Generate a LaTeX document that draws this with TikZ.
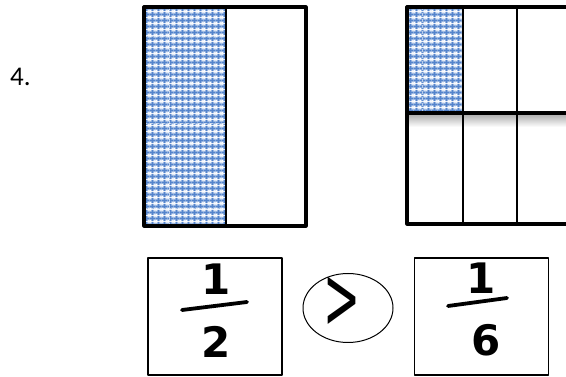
\documentclass[tikz,border=0pt]{standalone}
\usepackage{fontspec}
\setmainfont{Carlito}
\newfontfamily\manofont{DejaVu Sans}
\usetikzlibrary{patterns.meta,shapes.geometric,positioning}

\definecolor{azul}{RGB}{84,132,204}

\tikzdeclarepattern{
  name=cuadricula,
  type=colored,
  bottom left={(0pt,0pt)},
  top right={(6pt,6pt)},
  tile size={(6pt,6pt)},
  code={
    \fill[azul!35!white] (0pt,0pt) rectangle (6pt,6pt);
    \fill[azul] (2pt,0pt) rectangle (4pt,6pt);
    \fill[azul] (0pt,2pt) rectangle (6pt,4pt);
    \fill[white] (0pt,0pt) rectangle (1pt,1pt);
    \fill[white] (5pt,5pt) rectangle (6pt,6pt);
    \fill[white] (0pt,5pt) rectangle (1pt,6pt);
    \fill[white] (5pt,0pt) rectangle (6pt,1pt);
  }
}

\begin{document}
\begin{tikzpicture}[
    x=1pt,
    y=-1pt,
    line join=round,
    line cap=round,
    borde/.style={line width=3.2pt},
    sombreado/.style={pattern=cuadricula},
    caja/.style={draw, line width=1.2pt, minimum width=134pt, minimum height=117pt},
    signo/.style={draw, ellipse, line width=1pt, minimum width=90pt, minimum height=69pt, inner sep=0pt},
    cifra/.style={font=\manofont\bfseries\fontsize{42}{42}\selectfont, inner sep=0pt},
    trazo/.style={line width=3.8pt}
]

\useasboundingbox (0,0) rectangle (566,377);

\node[font=\fontsize{27}{27}\selectfont, anchor=base west, inner sep=0pt] (numero) at (10,86) {4.};

\coordinate (I1) at (144,7);
\coordinate (I2) at (226,7);
\coordinate (I3) at (306,7);
\coordinate (I4) at (144,226);
\coordinate (I5) at (226,226);
\coordinate (I6) at (306,226);

\fill[sombreado] (I1) rectangle (I5);
\draw[white, dashed, thin, opacity=.6] (169,7) -- (169,226);
\draw[white, dashed, thin, opacity=.6] (144,36) -- (226,36);
\draw[white, dashed, thin, opacity=.6] (144,123) -- (226,123);
\draw[white, dashed, thin, opacity=.6] (144,208) -- (226,208);

\draw[borde] (I1) rectangle (I6);
\draw[line width=2.8pt] (I2) -- (I5);

\coordinate (D1) at (407,7);
\coordinate (D2) at (463,7);
\coordinate (D3) at (517,7);
\coordinate (D4) at (566,7);
\coordinate (D5) at (407,113);
\coordinate (D6) at (463,113);
\coordinate (D7) at (566,113);
\coordinate (D8) at (407,224);
\coordinate (D9) at (463,224);
\coordinate (D10) at (517,224);
\coordinate (D11) at (566,224);

\fill[sombreado] (D1) rectangle (D6);
\draw[white, dashed, thin, opacity=.6] (422,7) -- (422,113);
\draw[white, dashed, thin, opacity=.6] (407,36) -- (463,36);
\shade[top color=black!30, bottom color=white] (407,115) rectangle (566,127);

\draw[borde] (D4) -- (D1) -- (D8) -- (D11);
\draw[line width=3.8pt] (D5) -- (D7);
\draw[line width=2.8pt] (D2) -- (D9);
\draw[line width=2.8pt] (D3) -- (D10);

\node[caja] (fraccionA) at (215,316.5) {};
\node[signo] (comparar) at (348,308) {};
\node[caja] (fraccionB) at (481.5,316.5) {};

\node[cifra] (unoA) at (216,279) {1};
\draw[trazo] (182,310) -- (247,302);
\node[cifra] (dosA) at (216,342) {2};

\node[font=\manofont\fontsize{52}{52}\selectfont, inner sep=0pt] (mayor) at (342,303) {\scalebox{0.85}[1.7]{>}};

\node[cifra] (unoB) at (481,278) {1};
\draw[trazo] (448,306) -- (507,298);
\node[cifra] (seisB) at (486,340) {6};

\end{tikzpicture}
\end{document}
